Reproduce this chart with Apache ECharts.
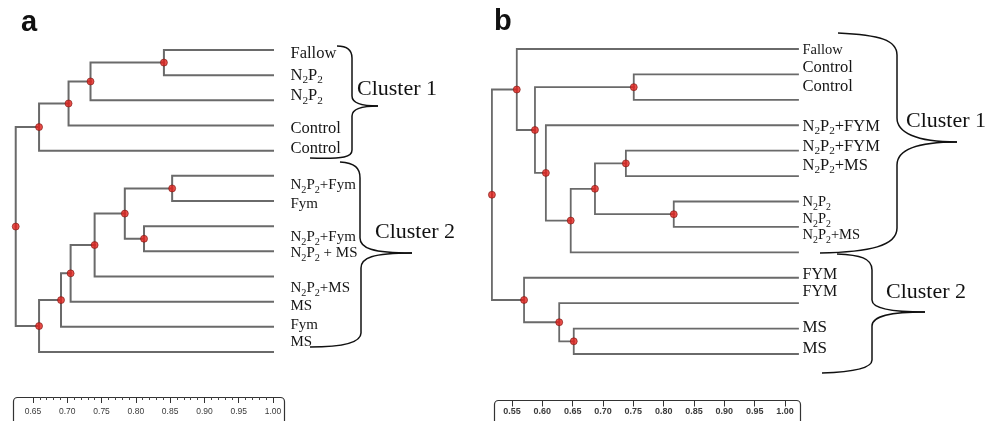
<!DOCTYPE html>
<html><head><meta charset="utf-8">
<script src="https://cdn.jsdelivr.net/npm/echarts@6/dist/echarts.min.js"></script>
<style>html,body{margin:0;padding:0;background:#fff}#c{width:997px;height:421px}</style>
</head><body><div id="c"></div>
<script>
// ---------------- data ----------------
// leaf labels, top to bottom ("_2" = subscript 2)
const leavesA = ['Fallow','N_2P_2','N_2P_2','Control','Control','N_2P_2+Fym','Fym','N_2P_2+Fym','N_2P_2 + MS','N_2P_2+MS','MS','Fym','MS'];
// merges: [child1, child2, similarity]; leaves are 0..12, merge k creates node 13+k
const mergesA = [[0,1,0.841],[13,2,0.734],[14,3,0.702],[15,4,0.659],[5,6,0.853],[7,8,0.812],[17,18,0.784],[19,9,0.740],[20,10,0.705],[21,11,0.691],[22,12,0.659],[16,23,0.625]];
const leavesB = ['Fallow','Control','Control','N_2P_2+FYM','N_2P_2+FYM','N_2P_2+MS','N_2P_2','N_2P_2','N_2P_2+MS','FYM','FYM','MS','MS'];
const mergesB = [[1,2,0.729],[4,5,0.716],[6,7,0.795],[14,15,0.665],[16,8,0.625],[3,17,0.584],[13,18,0.566],[0,19,0.536],[11,12,0.630],[10,21,0.606],[9,22,0.548],[20,23,0.495]];
const leafSimilarity = 1.0;
const scaleTicksA = [0.65,0.70,0.75,0.80,0.85,0.90,0.95,1.00];
const scaleTicksB = [0.55,0.60,0.65,0.70,0.75,0.80,0.85,0.90,0.95,1.00];
const clusterNames = ['Cluster 1','Cluster 2'];
const panelNames = ['a','b'];

// ---------------- layout (label rows in leaf units, font sizes) ----------------
const labelRowA = [0.16,1.03,1.83,3.14,3.93,5.36,6.12,7.43,8.07,9.46,10.17,10.93,11.6];
const labelSizeA = [16.5,16.5,16.5,16.5,16.5,15,15,15,15,15,15,15,15];
const labelRowB = [0.04,0.75,1.49,3.07,3.85,4.6,6.02,6.69,7.32,8.89,9.55,10.94,11.8];
const labelSizeB = [14.5,16.5,16.5,16.5,16.5,16.5,14.5,14.5,14.5,16,16,17,17];

const SERIF = '"Liberation Serif","Times New Roman",serif';

function buildTree(leaves, merges) {
  const pos = leaves.map((_, i) => [leafSimilarity, i]);
  const links = [], nodes = [];
  merges.forEach(([a, b, s]) => {
    const pa = pos[a], pb = pos[b];
    const y = (pa[1] + pb[1]) / 2;
    links.push({coords: [[s, y], [s, pa[1]], [pa[0], pa[1]]]});
    links.push({coords: [[s, y], [s, pb[1]], [pb[0], pb[1]]]});
    pos.push([s, y]);
    nodes.push([s, y]);
  });
  return {links, nodes};
}
const treeA = buildTree(leavesA, mergesA);
const treeB = buildTree(leavesB, mergesB);

function toRich(t) { return t.replace(/_(\d)/g, '{s|$1}'); }

function labelSeries(leaves, rows, sizes, gi, dist) {
  return {
    type: 'scatter', xAxisIndex: gi, yAxisIndex: gi, silent: true, animation: false,
    symbolSize: 1, itemStyle: {color: 'rgba(0,0,0,0)'}, z: 6,
    data: leaves.map((t, i) => ({
      value: [leafSimilarity, rows[i]],
      label: {
        show: true, position: 'right', distance: dist, opacity: 1,
        formatter: toRich(t), fontFamily: SERIF, fontSize: sizes[i], color: '#161616', lineHeight: 20,
        rich: {s: {fontFamily: SERIF, fontSize: sizes[i] * 0.68, color: '#161616', verticalAlign: 'bottom'}}
      }
    }))
  };
}

function treeSeries(tree, gi, w) {
  return [
    {type: 'lines', coordinateSystem: 'cartesian2d', xAxisIndex: gi, yAxisIndex: gi, polyline: true,
     silent: true, animation: false, data: tree.links,
     lineStyle: {color: '#6a6a6a', width: w, opacity: 1, cap: 'square', join: 'miter'}},
    {type: 'scatter', xAxisIndex: gi, yAxisIndex: gi, silent: true, animation: false, z: 5,
     symbolSize: 7, data: tree.nodes,
     itemStyle: {color: '#e3211c', borderColor: '#7a1a14', borderWidth: 0.8}}
  ];
}

function rulerAxis(gi, ticks, minor, fs, bold, margin) {
  return {
    gridIndex: gi, type: 'value', position: 'top',
    min: ticks[0], max: ticks[ticks.length - 1], interval: 0.05,
    axisLine: {show: false, onZero: false},
    axisTick: {show: true, inside: true, length: 6, lineStyle: {color: '#333', width: 1}},
    minorTick: {show: minor, splitNumber: 5, length: 3, lineStyle: {color: '#444', width: 1}},
    splitLine: {show: false}, minorSplitLine: {show: false},
    axisLabel: {inside: true, margin: margin, fontSize: fs, fontWeight: bold ? 'bold' : 'normal',
      color: '#3a3a3a', fontFamily: '"Liberation Sans",Arial,sans-serif',
      showMinLabel: true, showMaxLabel: true, formatter: v => v.toFixed(2)}
  };
}

// brace decorations: simple M/L/C path strings turned into line / bezierCurve graphics
function pathToGraphics(d) {
  const tok = d.match(/[MLC]|-?\d+(\.\d+)?/g);
  const out = [];
  let i = 0, cx = 0, cy = 0, cmd = '';
  const num = () => parseFloat(tok[i++]);
  while (i < tok.length) {
    if (/[MLC]/.test(tok[i])) cmd = tok[i++];
    if (cmd === 'M') { cx = num(); cy = num(); }
    else if (cmd === 'L') {
      const x = num(), y = num();
      out.push({type: 'line', shape: {x1: cx, y1: cy, x2: x, y2: y}, style: {stroke: '#111', lineWidth: 1.5}, silent: true});
      cx = x; cy = y;
    } else if (cmd === 'C') {
      const c1x = num(), c1y = num(), c2x = num(), c2y = num(), x = num(), y = num();
      out.push({type: 'bezierCurve', shape: {x1: cx, y1: cy, cpx1: c1x, cpy1: c1y, cpx2: c2x, cpy2: c2y, x2: x, y2: y},
        style: {fill: 'none', stroke: '#111', lineWidth: 1.5}, silent: true});
      cx = x; cy = y;
    }
  }
  return out;
}
const braces = [
  'M337,46 C347,46 352,50 352,58 L352,96 C352,103 360,106 378,106 C360,106 352,109 352,116 L352,150 C352,157 345,159 310,158',
  'M340,162 C355,163 360,168 360,178 L360,238 C360,248 372,253 412,253 C372,253 361,258 361,268 L361,333 C361,343 340,347 310,347',
  'M838,33 C880,35 897,40 897,55 L897,118 C897,132 915,142 957,142 C915,142 897,150 897,165 L897,228 C897,246 870,252 820,253',
  'M837,254 C860,255 872,258 872,270 L872,300 C872,308 890,312 925,312 C890,312 872,316 872,326 L872,360 C872,368 855,372 822,373'
];

const option = {
  backgroundColor: '#fff',
  animation: false,
  grid: [
    {left: 12.3, top: 50, width: 260.7, height: 302},
    {left: 33, top: 397, width: 240, height: 20},
    {left: 488.9, top: 49, width: 309.1, height: 305},
    {left: 512, top: 400.5, width: 273, height: 18}
  ],
  xAxis: [
    {gridIndex: 0, type: 'value', min: 0.62, max: 1.0, show: false},
    rulerAxis(1, scaleTicksA, true, 8.5, false, 10),
    {gridIndex: 2, type: 'value', min: 0.49, max: 1.0, show: false},
    rulerAxis(3, scaleTicksB, false, 9, true, 7)
  ],
  yAxis: [
    {gridIndex: 0, type: 'value', min: 0, max: 12, inverse: true, show: false},
    {gridIndex: 1, type: 'value', min: 0, max: 1, show: false},
    {gridIndex: 2, type: 'value', min: 0, max: 12, inverse: true, show: false},
    {gridIndex: 3, type: 'value', min: 0, max: 1, show: false}
  ],
  series: [
    ...treeSeries(treeA, 0, 2),
    labelSeries(leavesA, labelRowA, labelSizeA, 0, 17),
    ...treeSeries(treeB, 2, 1.8),
    labelSeries(leavesB, labelRowB, labelSizeB, 2, 4),
    {type: 'scatter', xAxisIndex: 1, yAxisIndex: 1, data: []},
    {type: 'scatter', xAxisIndex: 3, yAxisIndex: 3, data: []}
  ],
  graphic: [
    {type: 'text', left: 21, top: 8, style: {text: panelNames[0], font: 'bold 29px "Liberation Sans",Arial,sans-serif', fill: '#111'}},
    {type: 'text', left: 494, top: 7, style: {text: panelNames[1], font: 'bold 29px "Liberation Sans",Arial,sans-serif', fill: '#111'}},
    {type: 'rect', shape: {x: 13.5, y: 397.5, width: 271, height: 40, r: [4, 4, 0, 0]}, style: {fill: 'none', stroke: '#333', lineWidth: 1.2}},
    {type: 'rect', shape: {x: 494.5, y: 400.5, width: 306, height: 40, r: [4, 4, 0, 0]}, style: {fill: 'none', stroke: '#333', lineWidth: 1.2}},
    ...braces.flatMap(pathToGraphics),
    {type: 'text', left: 357, top: 78, style: {text: clusterNames[0], font: '22px ' + SERIF, fill: '#111'}},
    {type: 'text', left: 375, top: 221, style: {text: clusterNames[1], font: '22px ' + SERIF, fill: '#111'}},
    {type: 'text', left: 906, top: 110, style: {text: clusterNames[0], font: '22px ' + SERIF, fill: '#111'}},
    {type: 'text', left: 886, top: 281, style: {text: clusterNames[1], font: '22px ' + SERIF, fill: '#111'}}
  ]
};
const chart = echarts.init(document.getElementById('c'), null, {renderer: 'canvas'});
chart.setOption(option);
</script></body></html>
